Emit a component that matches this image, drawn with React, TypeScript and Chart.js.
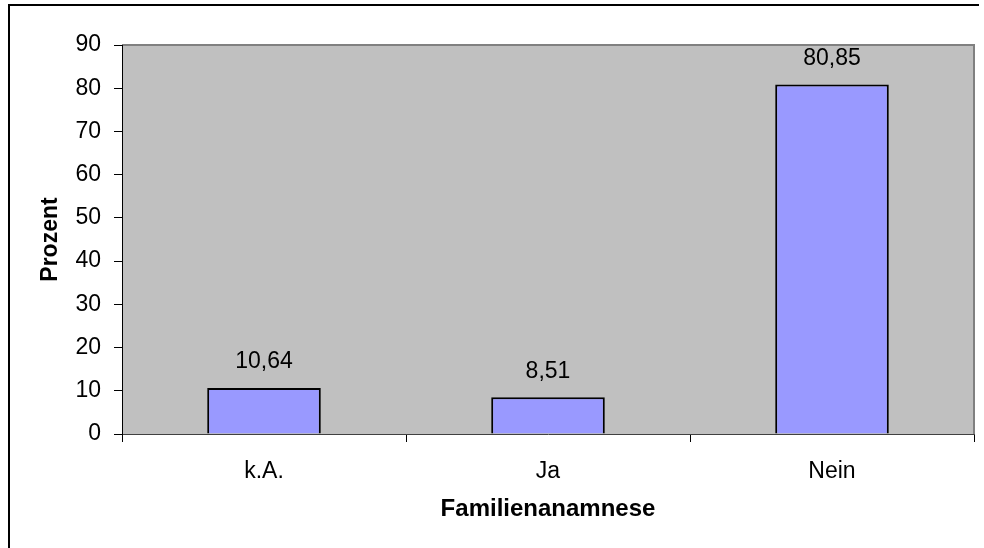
import React, { useEffect, useRef } from "react";
import { Chart, registerables } from "chart.js";

Chart.register(...registerables);

const categories = ["k.A.", "Ja", "Nein"];
const values = [10.64, 8.51, 80.85];
const yMin = 0;
const yMax = 90;
const yStep = 10;
const xTitle = "Familienanamnese";
const yTitle = "Prozent";

const FONT = "'Liberation Sans', Arial, Helvetica, sans-serif";

const plotPlugin = {
  id: "plotDecor",
  beforeDraw(chart: any) {
    const { ctx, chartArea } = chart;
    const { left, top, right, bottom } = chartArea;
    ctx.save();
    ctx.fillStyle = "#C0C0C0";
    ctx.fillRect(left, top, right - left, bottom - top);
    ctx.strokeStyle = "#808080";
    ctx.lineWidth = 2;
    ctx.beginPath();
    ctx.moveTo(left, top);
    ctx.lineTo(right, top);
    ctx.lineTo(right, bottom);
    ctx.stroke();
    ctx.restore();
  },
  afterDatasetsDraw(chart: any) {
    const { ctx } = chart;
    const meta = chart.getDatasetMeta(0);
    ctx.save();
    ctx.fillStyle = "#000";
    ctx.font = `23px ${FONT}`;
    ctx.textAlign = "center";
    ctx.textBaseline = "middle";
    meta.data.forEach((bar: any, i: number) => {
      const v = chart.data.datasets[0].data[i] as number;
      ctx.fillText(v.toFixed(2).replace(".", ","), bar.x, bar.y - 26);
    });
    ctx.restore();
  },
};

export default function App() {
  const ref = useRef<HTMLCanvasElement>(null);
  useEffect(() => {
    document.body.style.margin = "0";
    const chart = new Chart(ref.current!, {
      type: "bar",
      data: {
        labels: categories,
        datasets: [
          {
            data: values,
            backgroundColor: "#9999FF",
            borderColor: "#000000",
            borderWidth: 2,
            categoryPercentage: 1,
            barPercentage: 0.4,
          },
        ],
      },
      options: {
        responsive: false,
        animation: false,
        devicePixelRatio: 1,
        layout: { padding: { left: 0, top: 45, right: 10, bottom: 0 } },
        plugins: { legend: { display: false }, tooltip: { enabled: false } },
        scales: {
          x: {
            grid: {
              display: true,
              drawOnChartArea: false,
              drawTicks: true,
              tickLength: 8,
              tickColor: "#000",
              offset: true,
            },
            border: { display: true, color: "#404040", width: 1 },
            ticks: {
              color: "#000",
              font: { family: FONT, size: 23 },
              padding: 16,
              maxRotation: 0,
            },
            title: {
              display: true,
              text: xTitle,
              color: "#000",
              font: { family: FONT, size: 24, weight: "bold" },
              padding: { top: 0, bottom: 24 },
            },
            afterFit(scale: any) {
              scale.height = 114;
            },
          },
          y: {
            min: yMin,
            max: yMax,
            grid: {
              display: true,
              drawOnChartArea: false,
              drawTicks: true,
              tickLength: 8,
              tickColor: "#000",
            },
            border: { display: true, color: "#000", width: 1 },
            ticks: {
              stepSize: yStep,
              color: "#000",
              font: { family: FONT, size: 23 },
              padding: 13,
            },
            title: {
              display: true,
              text: yTitle,
              color: "#000",
              font: { family: FONT, size: 23, weight: "bold" },
              padding: { top: 37, bottom: 0 },
            },
            afterFit(scale: any) {
              scale.width = 122;
            },
          },
        },
      },
      plugins: [plotPlugin],
    });
    return () => chart.destroy();
  }, []);

  return (
    <div style={{ position: "absolute", left: 0, top: 0, width: 984, height: 548, background: "#fff" }}>
      <canvas ref={ref} width={984} height={548} style={{ display: "block" }} />
      <div
        style={{
          position: "absolute",
          left: 8,
          top: 4,
          width: 971,
          height: 544,
          borderTop: "2px solid #000",
          borderLeft: "2px solid #000",
          boxSizing: "border-box",
          pointerEvents: "none",
        }}
      />
    </div>
  );
}
